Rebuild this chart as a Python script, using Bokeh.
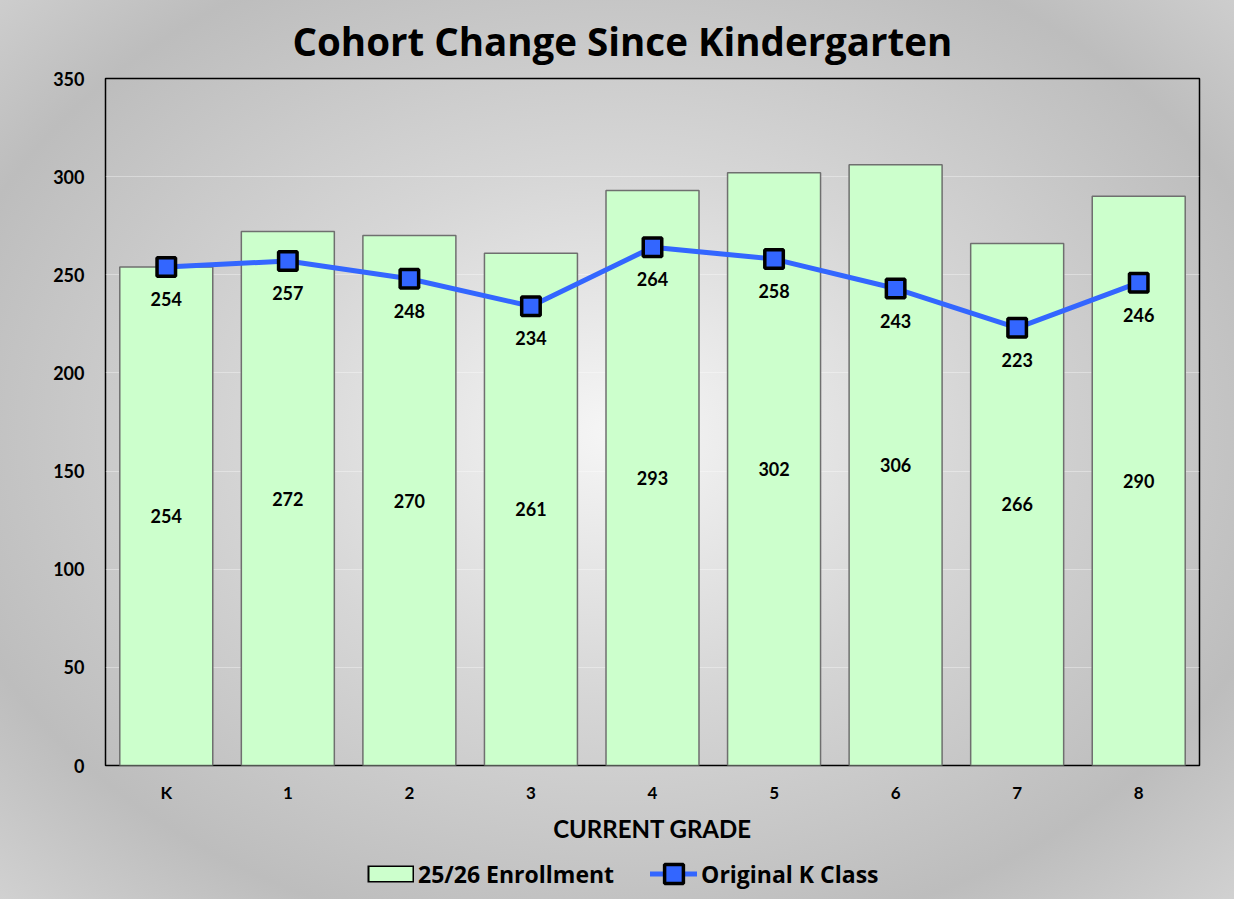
from bokeh.plotting import figure
from bokeh.models import ColumnDataSource, Legend, LegendItem, Title, Range1d
from bokeh.layouts import column
from bokeh.core.properties import value
from bokeh.embed import file_html
from bokeh.resources import INLINE

grades = ["K", "1", "2", "3", "4", "5", "6", "7", "8"]
enrollment = [254, 272, 270, 261, 293, 302, 306, 266, 290]
original_k = [254, 257, 248, 234, 264, 258, 243, 223, 246]

FONT = "Lato"
WIDE = "Open Sans"
BAR_FILL = "#ccffcc"
LINE_BLUE = "#3366ff"

src = ColumnDataSource(dict(
    g=grades, enr=enrollment, mid=[v / 2 for v in enrollment], ok=original_k,
    enr_t=[str(v) for v in enrollment], ok_t=[str(v) for v in original_k],
))

p = figure(x_range=grades, y_range=(0, 350), frame_width=1094, frame_height=687,
           output_backend="svg", toolbar_location=None,
           min_border_left=105, min_border_right=35, min_border_top=78, min_border_bottom=85)
p.background_fill_alpha = 0
p.border_fill_alpha = 0
p.outline_line_color = "black"
p.outline_line_width = 1.5

p.title = Title(text="Cohort Change Since Kindergarten", align="left", offset=187,
                text_font=WIDE, text_font_size="38.5px", text_font_style="bold",
                text_color="black", standoff=24)

bars = p.vbar(x="g", top="enr", width=0.765, source=src, fill_color=BAR_FILL,
              line_color="#6f6f6f", line_width=1.5)
line = p.line(x="g", y="ok", source=src, line_color=LINE_BLUE, line_width=5,
              line_cap="round", line_join="round")
pts = p.scatter(x="g", y="ok", source=src, marker="square", size=18.5,
                fill_color=LINE_BLUE, line_color="black", line_width=3.5)

p.text(x="g", y="ok", text="ok_t", source=src, y_offset=32, text_align="center",
       text_baseline="middle", text_font=value(FONT), text_font_size="18px",
       text_font_style="bold", text_color="black")
p.text(x="g", y="mid", text="enr_t", source=src, text_align="center",
       text_baseline="middle", text_font=value(FONT), text_font_size="18px",
       text_font_style="bold", text_color="black")

for ax in (p.xaxis, p.yaxis):
    ax.axis_line_color = None
    ax.major_tick_line_color = None
    ax.minor_tick_line_color = None
    ax.major_label_text_font = FONT
    ax.major_label_text_font_style = "bold"
    ax.major_label_text_color = "black"
p.yaxis.major_label_text_font_size = "18px"
p.xaxis.major_label_text_font_size = "17px"
p.yaxis.major_label_standoff = 15
p.xaxis.major_label_standoff = 10
p.yaxis.ticker = [0, 50, 100, 150, 200, 250, 300, 350]
p.xaxis.axis_label = "CURRENT GRADE"
p.xaxis.axis_label_text_font = FONT
p.xaxis.axis_label_text_font_style = "bold"
p.xaxis.axis_label_text_font_size = "24px"
p.xaxis.axis_label_standoff = 8
p.xaxis.axis_label_text_color = "black"

p.xgrid.grid_line_color = None
p.ygrid.grid_line_color = "white"
p.ygrid.grid_line_alpha = 0.35

# ---- legend strip (separate figure, same transparent background) ----
lf = figure(width=1234, height=49, x_range=Range1d(0, 1), y_range=Range1d(0, 1),
            output_backend="svg", toolbar_location=None,
            x_axis_location=None, y_axis_location=None,
            min_border=0, min_border_left=0, min_border_right=0,
            min_border_top=0, min_border_bottom=0)
lf.background_fill_alpha = 0
lf.border_fill_alpha = 0
lf.outline_line_color = None
lf.grid.visible = False

dummy = ColumnDataSource(dict(x=[-10], y=[-10]))
sw_border = lf.line(x="x", y="y", source=dummy, line_color="black", line_width=17, line_cap="butt")
sw_fill = lf.line(x="x", y="y", source=dummy, line_color=BAR_FILL, line_width=14,
                  line_cap="butt", line_dash="0 2 43 2")
lg_line = lf.line(x="x", y="y", source=dummy, line_color=LINE_BLUE, line_width=5, line_cap="round")
lg_pts = lf.scatter(x="x", y="y", source=dummy, marker="square", size=18.5,
                    fill_color=LINE_BLUE, line_color="black", line_width=3.5)

legend = Legend(items=[LegendItem(label="25/26 Enrollment", renderers=[sw_border, sw_fill]),
                       LegendItem(label="Original K Class", renderers=[lg_line, lg_pts])],
                orientation="horizontal", location=(262, 2),
                background_fill_alpha=0, border_line_color=None,
                label_text_font=WIDE, label_text_font_style="bold",
                label_text_font_size="23px", label_text_color="black",
                glyph_width=47, glyph_height=47, label_standoff=4, spacing=36,
                padding=0, margin=0)
lf.add_layout(legend)

layout = column(p, lf, spacing=0)
layout.styles = {"background-image": "radial-gradient(ellipse 72% 74% at 50% 48%, #f6f6f6 0%, #d6d6d6 40%, #bdbdbd 78%, #d2d2d2 100%)"}

open("out.html", "w").write(file_html(layout, INLINE))
